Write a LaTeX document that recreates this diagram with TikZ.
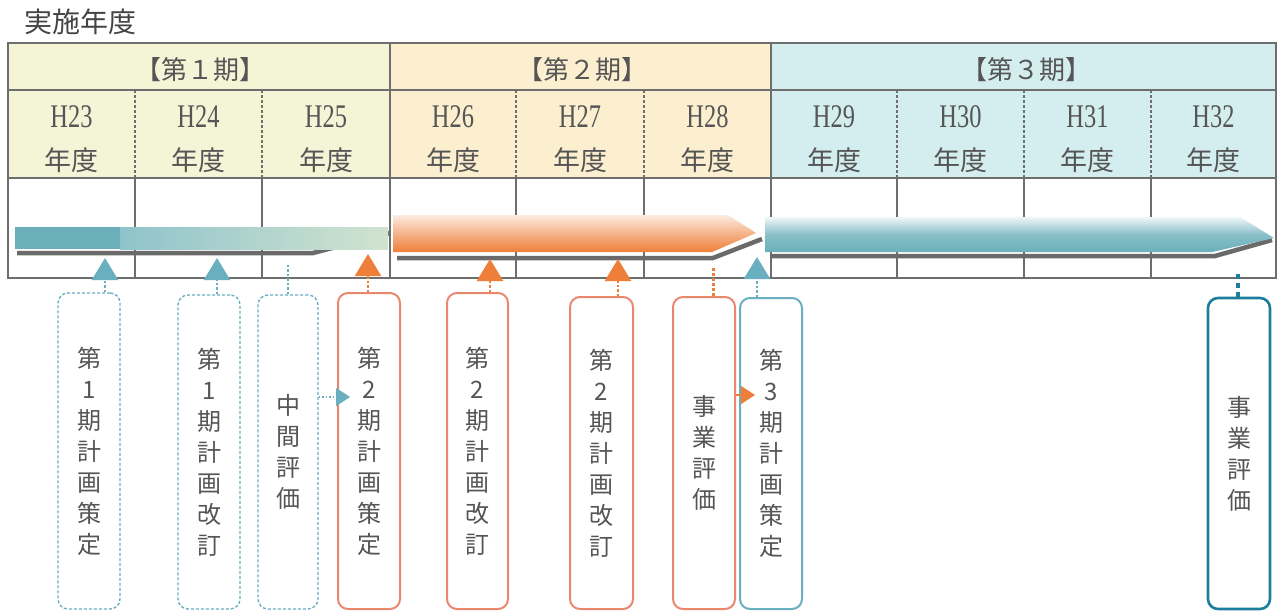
\documentclass[tikz,border=0pt]{standalone}
\usepackage{fontspec}
\newfontfamily\jp{Noto Sans CJK JP}
\newfontfamily\latn{Liberation Serif}
\usetikzlibrary{arrows.meta}
\definecolor{gridc}{HTML}{6E6E6E}
\definecolor{textc}{HTML}{555555}
\definecolor{p1fill}{HTML}{F3F5D6}
\definecolor{p2fill}{HTML}{FCEFCF}
\definecolor{p3fill}{HTML}{D4EEF0}
\definecolor{tealc}{HTML}{6AAFC0}
\definecolor{tealband}{HTML}{6AAFBA}
\definecolor{orangec}{HTML}{E9876F}
\definecolor{orangetip}{HTML}{EE7F3A}
\definecolor{darkteal}{HTML}{1C7E9E}
\definecolor{shadowc}{HTML}{6A6A6A}
\tikzset{
  gridline/.style={draw=gridc, line width=1.6pt},
  thingrid/.style={draw=gridc, line width=1.2pt},
  hdr/.style={text=textc, font=\jp\fontsize{26}{26}\selectfont, inner sep=0pt},
  ttl/.style={text=textc!80!black, font=\jp\fontsize{28}{28}\selectfont, inner sep=0pt},
  yr/.style={text=textc, font=\latn\fontsize{33}{33}\selectfont, inner sep=0pt},
  nendo/.style={text=textc, font=\jp\fontsize{27}{27}\selectfont, inner sep=0pt},
  boxbase/.style={rounded corners=10pt, minimum width=62pt, inner sep=0pt, align=center,
     font=\jp\fontsize{24}{31}\selectfont, text=textc, fill=white},
  tealbox/.style={boxbase, draw=tealc, line width=1.4pt, densely dashed},
  orangebox/.style={boxbase, draw=orangec, line width=2pt},
  tealbox2/.style={boxbase, draw=tealc, line width=2pt},
  darkbox/.style={boxbase, draw=darkteal, line width=2.6pt},
  shadowline/.style={draw=shadowc, line width=4.5pt},
  tealup/.style={draw=tealc, line width=2.5pt, dotted, -{Triangle[width=26pt,length=22pt]}},
  orangeup/.style={draw=orangetip, line width=2.5pt, dotted, -{Triangle[width=26pt,length=22pt]}},
  tealdots/.style={draw=tealc, line width=2.5pt, dotted},
  orangedots/.style={draw=orangetip, line width=3pt, dotted},
  darkdots/.style={draw=darkteal, line width=4pt, dash pattern=on 5pt off 4pt},
  tealside/.style={draw=tealc, line width=1.5pt, dotted, -{Triangle[width=18pt,length=14pt]}},
  orangeside/.style={draw=orangetip, line width=1.5pt, -{Triangle[width=18pt,length=14pt]}},
}
\begin{document}
\begin{tikzpicture}[x=1pt,y=-1pt]
\useasboundingbox (0,0) rectangle (1278,613);
\fill[white] (0,0) rectangle (1278,613);

% title
\node[ttl] (title) at (80,22) {実施年度};

% period fills
\fill[p1fill] (8,43) rectangle (390,178);
\fill[p2fill] (390,43) rectangle (771,178);
\fill[p3fill] (771,43) rectangle (1276,178);

% grid
\draw[gridline] (8,43) rectangle (1276,278);
\draw[gridline] (8,90) -- (1276,90);
\draw[gridline] (8,178) -- (1276,178);
\foreach \x in {390,771} \draw[gridline] (\x,43) -- (\x,278);
\foreach \x in {135,262,516,644,897,1024,1151} {
  \draw[thingrid, densely dashed] (\x,90) -- (\x,178);
  \draw[thingrid] (\x,178) -- (\x,278);
}

% period headers
\node[hdr] (ph1) at (200,70) {【第１期】};
\node[hdr] (ph2) at (582,70) {【第２期】};
\node[hdr] (ph3) at (1026,70) {【第３期】};

% years
\foreach \cx/\y [count=\i] in {71.5/23,198.5/24,326/25,453/26,580/27,707.5/28,834/29,960.5/30,1087.5/31,1213.5/32} {
  \node[yr] (y\i) at (\cx,117) {\scalebox{0.74}[1]{H\y}};
  \node[nendo] (n\i) at (\cx,160) {年度};
}

% period 1 band
\draw[shadowline] (17,253) -- (313,253) -- (390,233);
\fill[tealband] (15,227) rectangle (121,249);
\shade[left color=tealband!75!white, right color=tealband!25!p1fill] (120,227) rectangle (388,249);

% period 2 band
\draw[shadowline] (397,258) -- (713,258) -- (762,239);
\shade[top color=orangetip!15!white, bottom color=orangetip, middle color=orangetip!60!white]
  (393,215) -- (728,215) -- (756,233) -- (712,252) -- (393,252) -- cycle;

% period 3 band
\draw[shadowline] (770,256) -- (1215,256) -- (1272,240);
\shade[top color=tealband!10!white, bottom color=tealband, middle color=tealband!80!white]
  (765,217) -- (1240,217) -- (1274,238) -- (1212,252) -- (765,252) -- cycle;

% boxes
\node[tealbox, minimum height=316pt] (b1) at (89,451) {第\\1\\期\\計\\画\\策\\定};
\node[tealbox, minimum height=314pt] (b2) at (209,452) {第\\1\\期\\計\\画\\改\\訂};
\node[tealbox, minimum width=60pt, minimum height=314pt] (b3) at (288,452) {中\\間\\評\\価};
\node[orangebox, minimum height=316pt] (b4) at (369,451) {第\\2\\期\\計\\画\\策\\定};
\node[orangebox, minimum width=61pt, minimum height=316pt] (b5) at (477.5,451) {第\\2\\期\\計\\画\\改\\訂};
\node[orangebox, minimum width=63pt, minimum height=312pt] (b6) at (601.5,453) {第\\2\\期\\計\\画\\改\\訂};
\node[orangebox, minimum height=312pt] (b7) at (704,453) {事\\業\\評\\価};
\node[tealbox2, minimum height=311pt] (b8) at (771,453.5) {第\\3\\期\\計\\画\\策\\定};
\node[darkbox, minimum height=311pt] (b9) at (1239,453.5) {事\\業\\評\\価};

% arrow targets on the bands
\coordinate (a1) at (105,258);
\coordinate (a2) at (217,258);
\coordinate (a3) at (288,265);
\coordinate (a4) at (368,254);
\coordinate (a5) at (490,259);
\coordinate (a6) at (618,259);
\coordinate (a7) at (713,268);
\coordinate (a8) at (757,257);
\coordinate (a9) at (1238,270);
\coordinate (m1) at (350,397);
\coordinate (m2) at (755,395);

\draw[tealup] (b1.north -| a1) -- (a1);
\draw[tealup] (b2.north -| a2) -- (a2);
\draw[tealdots] (b3.north -| a3) -- (a3);
\draw[orangeup] (b4.north -| a4) -- (a4);
\draw[orangeup] (b5.north -| a5) -- (a5);
\draw[orangeup] (b6.north -| a6) -- (a6);
\draw[orangedots] (b7.north -| a7) -- (a7);
\draw[tealup] (b8.north -| a8) -- (a8);
\draw[darkdots] (b9.north -| a9) -- (a9);

% side arrows
\draw[tealside] (b3.east |- m1) -- (m1);
\draw[orangeside] (b7.east |- m2) -- (m2);
\end{tikzpicture}
\end{document}
